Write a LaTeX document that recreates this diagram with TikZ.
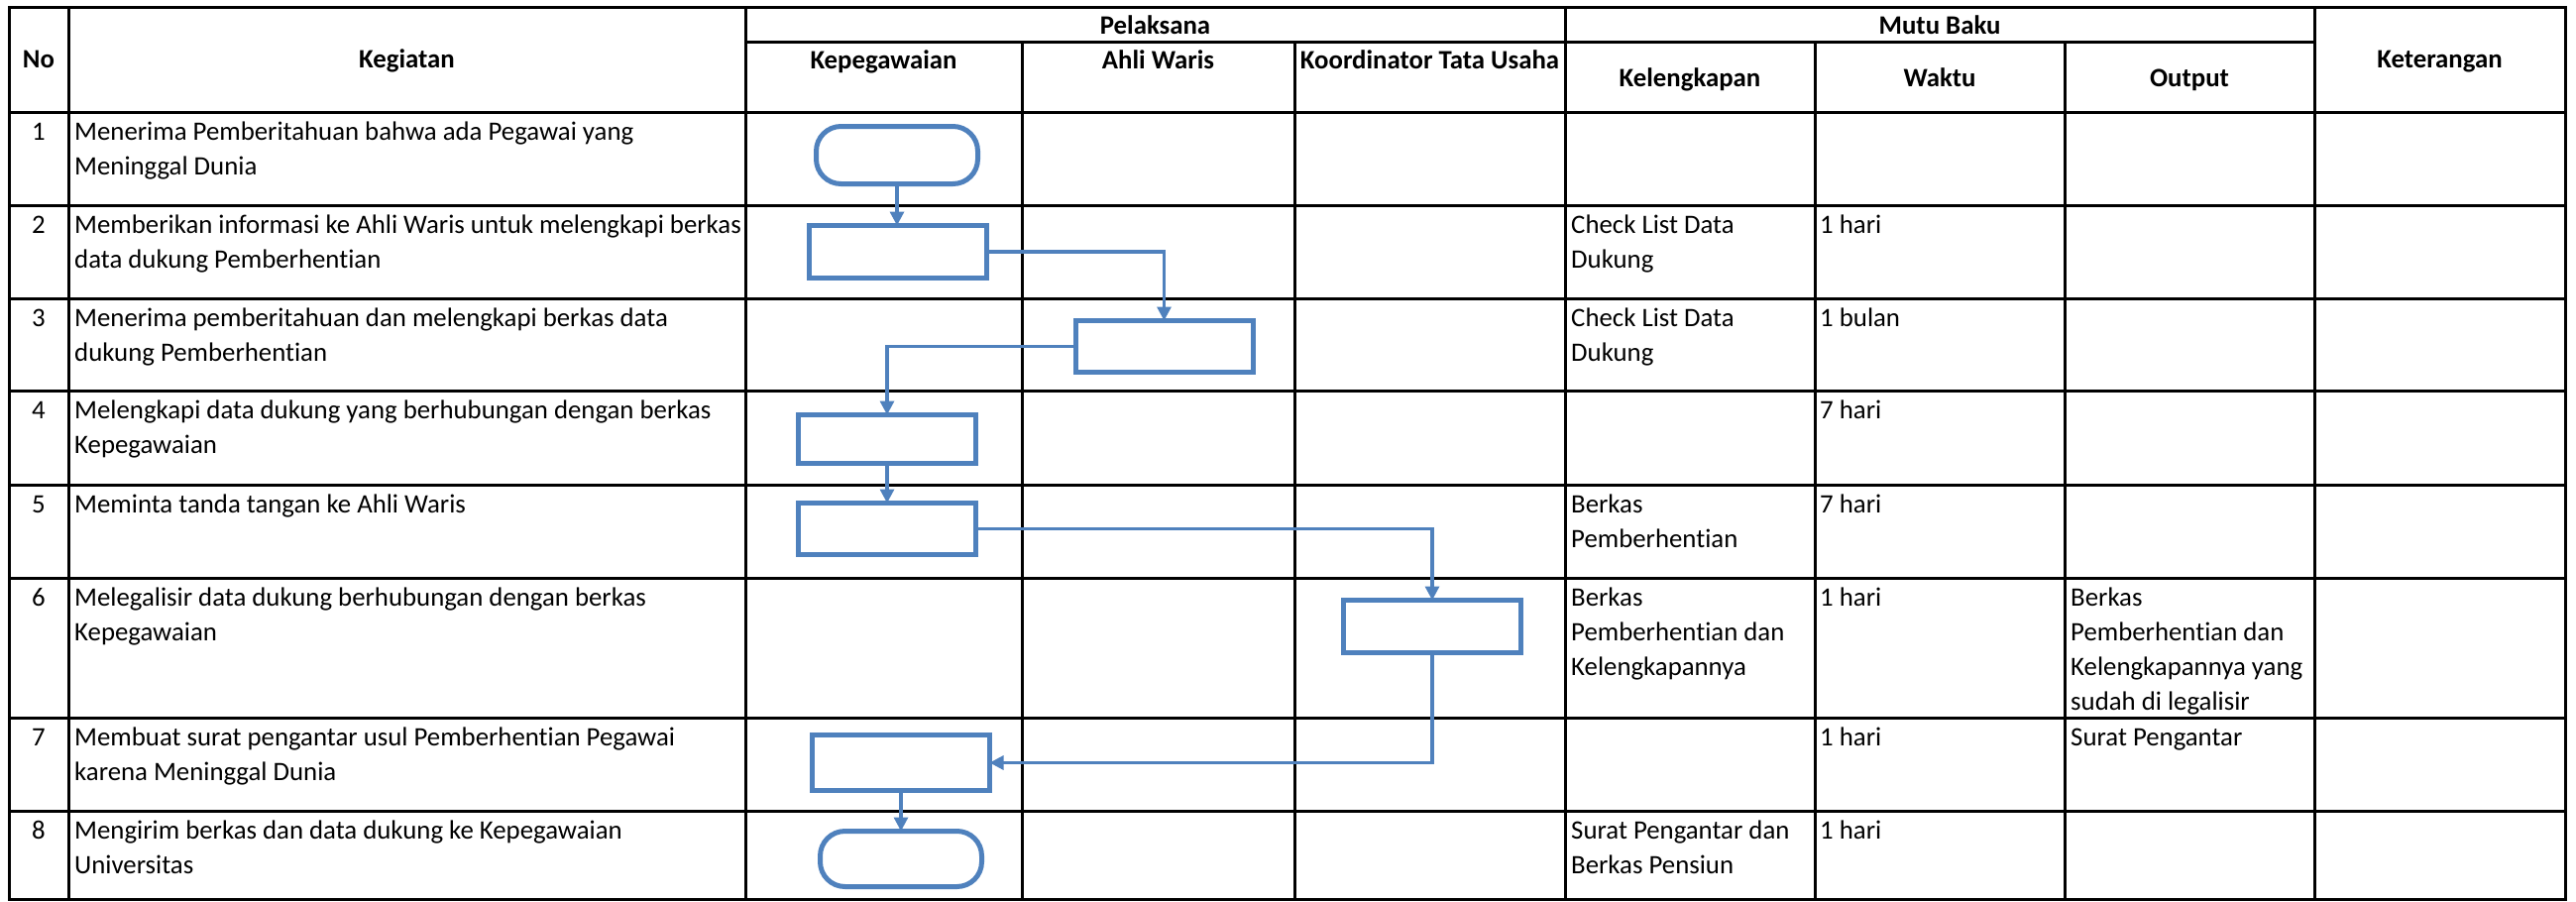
\documentclass[tikz,border=0pt]{standalone}
\usepackage{fontspec}
\setmainfont{Carlito}[Ligatures=CommonOff]
\usetikzlibrary{arrows.meta}
\definecolor{flowblue}{RGB}{79,129,189}
\begin{document}
\begin{tikzpicture}[x=1pt,y=-1pt,
  gridline/.style={line width=3pt, black, line cap=rect},
  txt/.style={anchor=base west, inner sep=0pt, align=left, font=\fontsize{26.8}{35}\selectfont},
  num/.style={anchor=base, inner sep=0pt, font=\fontsize{26.8}{35}\selectfont},
  head/.style={anchor=base, inner sep=0pt, font=\fontsize{26.8}{35}\selectfont\bfseries},
  procbox/.style={draw=flowblue, line width=5pt, inner sep=0pt, outer sep=0pt, minimum width=179pt},
  termbox/.style={draw=flowblue, line width=5pt, inner sep=0pt, outer sep=0pt, minimum width=163pt, rounded corners=25pt},
  flow/.style={draw=flowblue, line width=3.2pt, -{Triangle[length=14pt,width=14pt]}},
]
\fill[white] (0,0) rectangle (2599,910);
\useasboundingbox (0,0) rectangle (2599,910);

% table grid
\foreach \yy in {113,207,301,394,489,583,724,818}
  \draw[gridline] (9,\yy) -- (2588,\yy);
\draw[gridline] (752,42) -- (2335,42);
\foreach \xx in {69,752,1579,2335}
  \draw[gridline] (\xx,7) -- (\xx,907);
\foreach \xx in {1031,1306,1831,2083}
  \draw[gridline] (\xx,42) -- (\xx,907);
\draw[gridline] (9,7) rectangle (2588,907);

% headers
\node[head] (hNo) at (39,68) {No};
\node[head] (hKeg) at (410.5,68) {Kegiatan};
\node[head] (hPel) at (1165.5,34) {Pelaksana};
\node[head] (hMutu) at (1957,34) {Mutu Baku};
\node[head] (hKepeg) at (891.5,69) {Kepegawaian};
\node[head] (hAhli) at (1168.5,69) {Ahli Waris};
\node[head] (hKoord) at (1442.5,69) {Koordinator Tata Usaha};
\node[head] (hKel) at (1705,87) {Kelengkapan};
\node[head] (hWak) at (1957,87) {Waktu};
\node[head] (hOut) at (2209,87) {Output};
\node[head] (hKet) at (2461.5,68) {Keterangan};

% row numbers
\node[num] (n1) at (39,141.5) {1};
\node[num] (n2) at (39,235.5) {2};
\node[num] (n3) at (39,329.5) {3};
\node[num] (n4) at (39,422.5) {4};
\node[num] (n5) at (39,517.5) {5};
\node[num] (n6) at (39,611.5) {6};
\node[num] (n7) at (39,752.5) {7};
\node[num] (n8) at (39,846.5) {8};

% kegiatan (anchor = baseline of the last line)
\node[txt] (k1) at (75,176.5) {Menerima Pemberitahuan bahwa ada Pegawai yang\\Meninggal Dunia};
\node[txt] (k2) at (75,270.5) {Memberikan informasi ke Ahli Waris untuk melengkapi berkas\\data dukung Pemberhentian};
\node[txt] (k3) at (75,364.5) {Menerima pemberitahuan dan melengkapi berkas data\\dukung Pemberhentian};
\node[txt] (k4) at (75,457.5) {Melengkapi data dukung yang berhubungan dengan berkas\\Kepegawaian};
\node[txt] (k5) at (75,517.5) {Meminta tanda tangan ke Ahli Waris};
\node[txt] (k6) at (75,646.5) {Melegalisir data dukung berhubungan dengan berkas\\Kepegawaian};
\node[txt] (k7) at (75,787.5) {Membuat surat pengantar usul Pemberhentian Pegawai\\karena Meninggal Dunia};
\node[txt] (k8) at (75,881.5) {Mengirim berkas dan data dukung ke Kepegawaian\\Universitas};

% kelengkapan
\node[txt] (l2) at (1585,270.5) {Check List Data\\Dukung};
\node[txt] (l3) at (1585,364.5) {Check List Data\\Dukung};
\node[txt] (l5) at (1585,552.5) {Berkas\\Pemberhentian};
\node[txt] (l6) at (1585,681.5) {Berkas\\Pemberhentian dan\\Kelengkapannya};
\node[txt] (l8) at (1585,881.5) {Surat Pengantar dan\\Berkas Pensiun};

% waktu
\node[txt] (w2) at (1836,235.5) {1 hari};
\node[txt] (w3) at (1836,329.5) {1 bulan};
\node[txt] (w4) at (1836,422.5) {7 hari};
\node[txt] (w5) at (1836,517.5) {7 hari};
\node[txt] (w6) at (1836,611.5) {1 hari};
\node[txt] (w7) at (1836,752.5) {1 hari};
\node[txt] (w8) at (1836,846.5) {1 hari};

% output
\node[txt] (o6) at (2089,716.5) {Berkas\\Pemberhentian dan\\Kelengkapannya yang\\sudah di legalisir};
\node[txt] (o7) at (2089,752.5) {Surat Pengantar};

% flow shapes
\node[termbox, minimum height=58pt] (t1) at (905,156.5) {};
\node[procbox, minimum height=53pt] (b2) at (906,254) {};
\node[procbox, minimum height=52pt] (b3) at (1174.5,349.5) {};
\node[procbox, minimum height=49pt] (b4) at (895,443) {};
\node[procbox, minimum height=52pt] (b5) at (895,533.5) {};
\node[procbox, minimum height=53pt] (b6) at (1445,632) {};
\node[procbox, minimum height=56pt] (b7) at (909,769.5) {};
\node[termbox, minimum height=56pt] (t8) at (909,866.5) {};

% connectors
\draw[flow] (t1.south) -- (t1.south |- b2.north);
\draw[flow] (b2.east) -| (b3.north);
\draw[flow] (b3.west) -| (b4.north);
\draw[flow] (b4.south) -- (b5.north);
\draw[flow] (b5.east) -| (b6.north);
\draw[flow] (b6.south) |- (b7.east);
\draw[flow] (b7.south) -- (t8.north);
\end{tikzpicture}
\end{document}
